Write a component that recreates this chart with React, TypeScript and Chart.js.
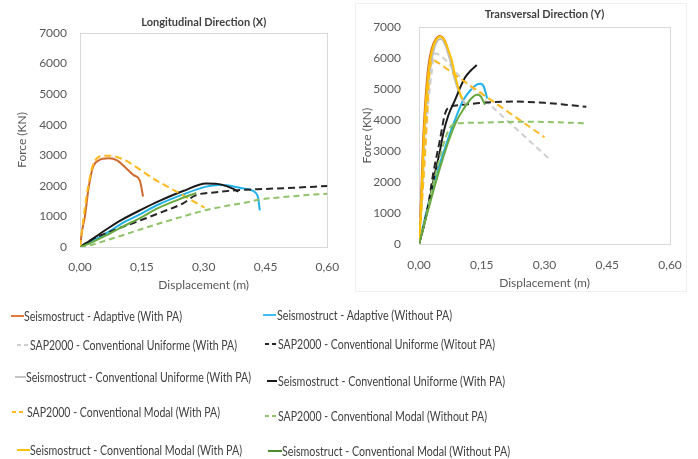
import React, { useEffect, useRef } from 'react';
import { Chart, registerables } from 'chart.js';

Chart.register(...registerables);

// ---------- labels ----------
const seriesNames = [
  'Seismostruct - Adaptive (With PA)',
  'Seismostruct - Adaptive (Without PA)',
  'SAP2000 - Conventional Uniforme (With PA)',
  'SAP2000 - Conventional Uniforme (Witout PA)',
  'Seismostruct - Conventional Uniforme (With PA)',
  'Seismostruct - Conventional Uniforme (With PA)',
  'SAP2000 - Conventional Modal (With PA)',
  'SAP2000 - Conventional Modal (Without PA)',
  'Seismostruct - Conventional Modal (With PA)',
  'Seismostruct - Conventional Modal (Without PA)',
];
const xTickLabels = ['0,00', '0,15', '0,30', '0,45', '0,60'];
const yTickLabels = ['0', '1000', '2000', '3000', '4000', '5000', '6000', '7000'];

// ---------- Longitudinal Direction (X) ----------
const lonAdaptivePA_d = [0, 0.006, 0.012, 0.02, 0.031, 0.045, 0.055, 0.07, 0.09, 0.11, 0.13, 0.145, 0.153];
const lonAdaptivePA_f = [0, 600, 1000, 1850, 2600, 2830, 2890, 2900, 2830, 2600, 2350, 2180, 1650];
const lonAdaptiveNoPA_d = [0, 0.0235, 0.07, 0.1, 0.15, 0.188, 0.25, 0.306, 0.335, 0.355, 0.39, 0.41, 0.425, 0.432, 0.436];
const lonAdaptiveNoPA_f = [0, 150, 500, 760, 1100, 1374, 1720, 1975, 2030, 2020, 1930, 1880, 1790, 1600, 1200];
const lonSapUniNoPA_d = [0, 0.027, 0.05, 0.11, 0.15, 0.2, 0.25, 0.28, 0.33, 0.384, 0.45, 0.52, 0.6];
const lonSapUniNoPA_f = [0, 230, 380, 690, 890, 1150, 1430, 1690, 1790, 1860, 1900, 1940, 1995];
const lonSeisUni_d = [0, 0.0235, 0.05, 0.07, 0.1, 0.15, 0.19, 0.25, 0.306, 0.333, 0.369, 0.384];
const lonSeisUni_f = [0, 200, 450, 630, 880, 1230, 1490, 1830, 2080, 2065, 1920, 1810];
const lonSapModPA_d = [0, 0.01, 0.02, 0.031, 0.051, 0.07, 0.19, 0.302];
const lonSapModPA_f = [0, 1100, 2000, 2660, 2975, 2985, 2140, 1290];
const lonSapModNoPA_d = [0, 0.02, 0.05, 0.1, 0.15, 0.2, 0.25, 0.3, 0.35, 0.4, 0.44, 0.5, 0.55, 0.6];
const lonSapModNoPA_f = [0, 40, 160, 370, 590, 800, 1000, 1190, 1330, 1450, 1560, 1640, 1700, 1740];
const lonSeisModNoPA_d = [0, 0.0235, 0.07, 0.1, 0.15, 0.188, 0.24, 0.282];
const lonSeisModNoPA_f = [0, 120, 425, 640, 980, 1264, 1560, 1770];

// ---------- Transversal Direction (Y) ----------
const traAdaptivePA_d = [0, 0.003, 0.006, 0.01, 0.015, 0.022, 0.03, 0.04, 0.05, 0.058, 0.066, 0.072];
const traAdaptivePA_f = [0, 900, 1900, 3400, 4600, 5700, 6300, 6620, 6720, 6650, 6420, 6100];
const traAdaptiveNoPA_d = [0, 0.015, 0.03, 0.042, 0.05, 0.074, 0.09, 0.106, 0.125, 0.138, 0.147, 0.155, 0.16, 0.163];
const traAdaptiveNoPA_f = [0, 880, 1700, 2280, 2600, 3575, 4150, 4650, 5000, 5150, 5180, 5080, 4850, 4700];
const traSapUniPA_d = [0, 0.005, 0.01, 0.02, 0.03, 0.038, 0.1, 0.2, 0.31];
const traSapUniPA_f = [0, 1000, 2200, 4200, 5500, 6150, 5380, 4120, 2770];
const traSapUniNoPA_d = [0, 0.01, 0.022, 0.034, 0.05, 0.062, 0.07, 0.1, 0.15, 0.225, 0.3, 0.35, 0.4];
const traSapUniNoPA_f = [0, 500, 1250, 2280, 3360, 4200, 4400, 4490, 4560, 4600, 4560, 4500, 4430];
const traSeisUniPA_d = [0, 0.004, 0.008, 0.012, 0.018, 0.026, 0.035, 0.045, 0.053, 0.062, 0.072, 0.085, 0.1, 0.112];
const traSeisUniPA_f = [0, 850, 1900, 3200, 4500, 5600, 6250, 6580, 6620, 6450, 6050, 5350, 4750, 4500];
const traSeisUni_d = [0, 0.01, 0.02, 0.03, 0.038, 0.05, 0.058, 0.07, 0.086, 0.1, 0.11, 0.125, 0.138];
const traSeisUni_f = [0, 500, 1100, 1750, 2280, 3000, 3570, 4150, 4650, 5100, 5380, 5620, 5780];
const traSapModPA_d = [0, 0.005, 0.01, 0.015, 0.02, 0.025, 0.032, 0.04, 0.1, 0.2, 0.3];
const traSapModPA_f = [0, 900, 1900, 3000, 4300, 5500, 5950, 5900, 5330, 4390, 3450];
const traSapModNoPA_d = [0, 0.015, 0.03, 0.05, 0.065, 0.08, 0.095, 0.15, 0.25, 0.33, 0.4];
const traSapModNoPA_f = [0, 800, 1700, 2800, 3500, 3850, 3900, 3920, 3950, 3930, 3900];
const traSeisModPA_d = [0, 0.004, 0.007, 0.011, 0.016, 0.023, 0.031, 0.041, 0.051, 0.06, 0.068, 0.078, 0.088, 0.098, 0.104];
const traSeisModPA_f = [0, 900, 1900, 3300, 4500, 5600, 6250, 6600, 6700, 6600, 6350, 5950, 5350, 4870, 4680];
const traSeisModNoPA_d = [0, 0.015, 0.03, 0.05, 0.074, 0.09, 0.106, 0.125, 0.138, 0.148, 0.154, 0.158];
const traSeisModNoPA_f = [0, 750, 1500, 2450, 3450, 3980, 4350, 4700, 4820, 4760, 4600, 4500];

// ---------- styles ----------
const seriesColors = ['#CE6B2C', '#22B1EA', '#CFCFCF', '#262626', '#BDBDBD', '#1A1A1A', '#FFB91F', '#8FC46A', '#FFC000', '#68A940'];
const legendColors = ['#E07B39', '#3DBDF2', '#CFCFCF', '#262626', '#C4C4C4', '#1A1A1A', '#FFBA1F', '#8FC46A', '#FFC000', '#4E8A30'];
const seriesDash: number[][] = [[], [], [6, 4], [7, 4], [], [], [7, 4], [6, 4], [], []];

const lonSeries: (null | [number[], number[]])[] = [
  [lonAdaptivePA_d, lonAdaptivePA_f],
  [lonAdaptiveNoPA_d, lonAdaptiveNoPA_f],
  null,
  [lonSapUniNoPA_d, lonSapUniNoPA_f],
  null,
  [lonSeisUni_d, lonSeisUni_f],
  [lonSapModPA_d, lonSapModPA_f],
  [lonSapModNoPA_d, lonSapModNoPA_f],
  null,
  [lonSeisModNoPA_d, lonSeisModNoPA_f],
];
const traSeries: (null | [number[], number[]])[] = [
  [traAdaptivePA_d, traAdaptivePA_f],
  [traAdaptiveNoPA_d, traAdaptiveNoPA_f],
  [traSapUniPA_d, traSapUniPA_f],
  [traSapUniNoPA_d, traSapUniNoPA_f],
  [traSeisUniPA_d, traSeisUniPA_f],
  [traSeisUni_d, traSeisUni_f],
  [traSapModPA_d, traSapModPA_f],
  [traSapModNoPA_d, traSapModNoPA_f],
  [traSeisModPA_d, traSeisModPA_f],
  [traSeisModNoPA_d, traSeisModNoPA_f],
];

const FONT = 'Lato, "Open Sans", sans-serif';
const AXIS_COLOR = '#595959';

const plotBox = {
  id: 'plotBox',
  beforeDatasetsDraw(chart: any) {
    const { ctx, chartArea } = chart;
    ctx.save();
    ctx.strokeStyle = '#D9D9D9';
    ctx.lineWidth = 1;
    ctx.strokeRect(
      Math.round(chartArea.left) + 0.5,
      Math.round(chartArea.top) + 0.5,
      Math.round(chartArea.right - chartArea.left),
      Math.round(chartArea.bottom - chartArea.top)
    );
    ctx.restore();
  },
};

type Geom = {
  width: number;
  left: number;
  padRight: number;
  titleTop: number;
  titleBottom: number;
  xHeight: number;
  xTickPad: number;
  xTitlePad: number;
  yWidth: number;
  yTickPad: number;
  yTitlePad: number;
};

function makeConfig(title: string, series: (null | [number[], number[]])[], g: Geom): any {
  const datasets: any[] = [];
  series.forEach((s, i) => {
    if (!s) return;
    const [xs, ys] = s;
    datasets.push({
      label: seriesNames[i],
      data: xs.map((x, k) => ({ x, y: ys[k] })),
      borderColor: seriesColors[i],
      backgroundColor: seriesColors[i],
      borderWidth: 2,
      borderDash: seriesDash[i],
      pointRadius: 0,
      pointHoverRadius: 0,
      showLine: true,
      fill: false,
      cubicInterpolationMode: 'monotone',
      order: -i,
    });
  });
  const tickFont = { family: FONT, size: 12 };
  return {
    type: 'scatter',
    data: { datasets },
    options: {
      animation: false,
      responsive: false,
      maintainAspectRatio: false,
      layout: { padding: { left: 0, right: g.padRight, top: 0, bottom: 0 } },
      plugins: {
        legend: { display: false },
        tooltip: { enabled: false },
        title: {
          display: true,
          text: title,
          fullSize: false,
          color: '#404040',
          font: { family: FONT, size: 11, weight: 'bold' },
          padding: { top: g.titleTop, bottom: g.titleBottom },
        },
      },
      scales: {
        x: {
          type: 'linear',
          min: 0,
          max: 0.6,
          grid: { display: false, drawTicks: false },
          border: { display: false },
          ticks: {
            stepSize: 0.15,
            autoSkip: false,
            maxRotation: 0,
            padding: g.xTickPad,
            color: AXIS_COLOR,
            font: tickFont,
            callback: (_v: any, i: number) => xTickLabels[i],
          },
          title: {
            display: true,
            text: 'Displacement (m)',
            color: AXIS_COLOR,
            font: { family: FONT, size: 12 },
            padding: { top: 0, bottom: g.xTitlePad },
          },
          afterFit: (s: any) => {
            s.height = g.xHeight;
          },
        },
        y: {
          type: 'linear',
          min: 0,
          max: 7000,
          grid: { display: false, drawTicks: false },
          border: { display: false },
          ticks: {
            stepSize: 1000,
            padding: g.yTickPad,
            color: AXIS_COLOR,
            font: tickFont,
            callback: (_v: any, i: number) => yTickLabels[i],
          },
          title: {
            display: true,
            text: 'Force (KN)',
            color: AXIS_COLOR,
            font: { family: FONT, size: 12 },
            padding: { top: g.yTitlePad, bottom: 0 },
          },
          afterFit: (s: any) => {
            s.width = g.yWidth;
          },
        },
      },
    },
    plugins: [plotBox],
  };
}

const H = 295;

function PushoverChart({ title, series, g }: { title: string; series: (null | [number[], number[]])[]; g: Geom }) {
  const ref = useRef<HTMLCanvasElement>(null);
  useEffect(() => {
    if (!ref.current) return;
    const chart = new Chart(ref.current, makeConfig(title, series, g));
    return () => chart.destroy();
  }, []);
  return (
    <canvas
      ref={ref}
      width={g.width}
      height={H}
      style={{ position: 'absolute', left: g.left, top: 0, width: g.width, height: H }}
    />
  );
}

const lonGeom: Geom = {
  width: 352, left: 0, padRight: 17, titleTop: 16, titleBottom: 3.8,
  xHeight: 48, xTickPad: 12.8, xTitlePad: 2.8, yWidth: 80, yTickPad: 13, yTitlePad: 14.8,
};
const traGeom: Geom = {
  width: 358, left: 340, padRight: 28, titleTop: 8, titleBottom: 6.1,
  xHeight: 51, xTickPad: 13.8, xTitlePad: 4.8, yWidth: 79, yTickPad: 18, yTitlePad: 19.8,
};

// legend layout: [lineX1, lineX2, lineY, textX, textWidth]
const legendLayout: number[][] = [
  [11, 24, 316, 24, 158],
  [263, 276, 315, 277, 175],
  [17, 29, 345, 30, 207],
  [265, 277, 344, 278, 217],
  [15, 26, 377, 26, 225],
  [267, 277, 381, 278, 227],
  [12, 26, 412, 27, 193],
  [265, 278, 416, 278, 209],
  [17, 30, 450, 30, 212],
  [268, 282, 451, 282, 228],
];

function Legend() {
  return (
    <svg width={698} height={459} style={{ position: 'absolute', left: 0, top: 0 }}>
      {seriesNames.map((name, i) => {
        const [x1, x2, y, tx, tw] = legendLayout[i];
        const dashed = seriesDash[i].length > 0;
        return (
          <g key={i}>
            {dashed ? (
              <line x1={x1} x2={x2} y1={y} y2={y} stroke={legendColors[i]} strokeWidth={2} strokeDasharray="4 3" />
            ) : (
              <line x1={x1} x2={x2} y1={y} y2={y} stroke={legendColors[i]} strokeWidth={2} />
            )}
            <text
              x={tx}
              y={y + 5}
              textLength={tw}
              lengthAdjust="spacingAndGlyphs"
              fill="#404040"
              style={{ fontFamily: FONT, fontSize: 14 }}
            >
              {name}
            </text>
          </g>
        );
      })}
    </svg>
  );
}

export default function App() {
  return (
    <div style={{ position: 'fixed', left: 0, top: 0, width: 698, height: 459, background: '#fff', overflow: 'hidden' }}>
      <div style={{ position: 'absolute', left: 355, top: 3, width: 330, height: 287, border: '1px solid #F0F0F0' }} />
      <PushoverChart title="Longitudinal Direction (X)" series={lonSeries} g={lonGeom} />
      <PushoverChart title="Transversal Direction (Y)" series={traSeries} g={traGeom} />
      <Legend />
    </div>
  );
}
